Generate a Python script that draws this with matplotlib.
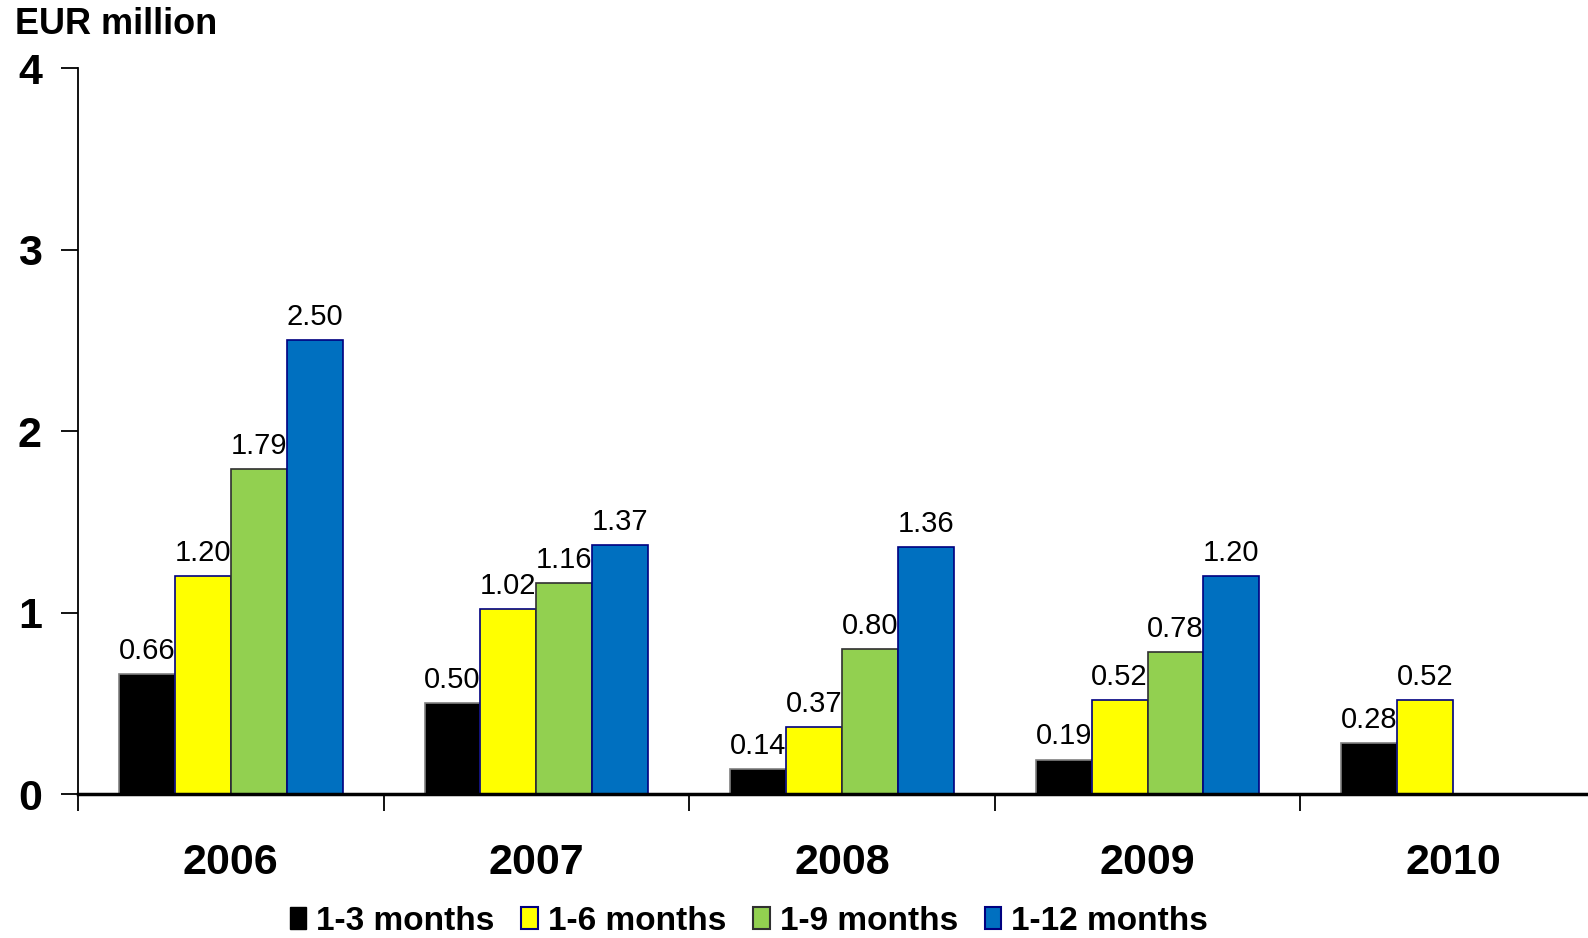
import numpy as np
import matplotlib.pyplot as plt
from matplotlib.patches import Patch

years = ['2006', '2007', '2008', '2009', '2010']
series = ['1-3 months', '1-6 months', '1-9 months', '1-12 months']
m3 = [0.66, 0.50, 0.14, 0.19, 0.28]
m6 = [1.20, 1.02, 0.37, 0.52, 0.52]
m9 = [1.79, 1.16, 0.80, 0.78, None]
m12 = [2.50, 1.37, 1.36, 1.20, None]

colors = ['#000000', '#FFFF00', '#92D050', '#0070C0']
edges = ['#808080', '#000080', '#303030', '#000080']

plt.rcParams['font.family'] = ['Liberation Sans', 'DejaVu Sans']

fig = plt.figure(figsize=(15.88, 9.38), dpi=100)
ax = fig.add_axes([0.0491, 0.1535, 1.0113 - 0.0491, 0.9275 - 0.1535])

x = np.arange(len(years))
w = 0.183
for i, vals in enumerate([m3, m6, m9, m12]):
    for j, v in enumerate(vals):
        if v is None:
            continue
        xpos = x[j] + (i - 1.5) * w
        ax.bar(xpos, v, width=w, color=colors[i], edgecolor=edges[i], linewidth=1.2)
        ax.text(xpos, v + 0.05, '%.2f' % v, ha='center', va='bottom', fontsize=21)

ax.set_xlim(-0.5, 4.5)
ax.set_ylim(0, 4)
ax.set_yticks([0, 1, 2, 3, 4])
ax.set_yticklabels(['0', '1', '2', '3', '4'], fontsize=31, fontweight='bold')
ax.tick_params(axis='y', length=12, width=1.3, pad=14)

ax.set_xticks(np.arange(-0.5, 4.6, 1.0))
ax.set_xticklabels([])
ax.tick_params(axis='x', which='major', length=12, width=1.3)
ax.set_xticks(x, minor=True)
ax.set_xticklabels(years, minor=True, fontsize=31, fontweight='bold')
ax.tick_params(axis='x', which='minor', length=0, pad=35)

for s in ['top', 'right']:
    ax.spines[s].set_visible(False)
ax.spines['left'].set_linewidth(1.3)
ax.spines['bottom'].set_linewidth(2.5)

fig.text(15 / 1588, 1 - 24 / 938, 'EUR million', fontsize=26, fontweight='bold',
         ha='left', va='center')

handles = [Patch(facecolor=c, edgecolor=e, linewidth=1.5) for c, e in zip(colors, edges)]
handles[0] = Patch(facecolor='#000000', edgecolor='#000000')
fig.legend(handles, series, loc='center', bbox_to_anchor=(749 / 1588, 1 - 921 / 938),
           ncol=4, frameon=False, handlelength=0.5, handleheight=0.65,
           handletextpad=0.3, columnspacing=0.8,
           prop={'family': ['Liberation Sans Narrow', 'Liberation Sans'],
                 'weight': 'bold', 'size': 24})

fig.savefig('out.png', dpi=100)
